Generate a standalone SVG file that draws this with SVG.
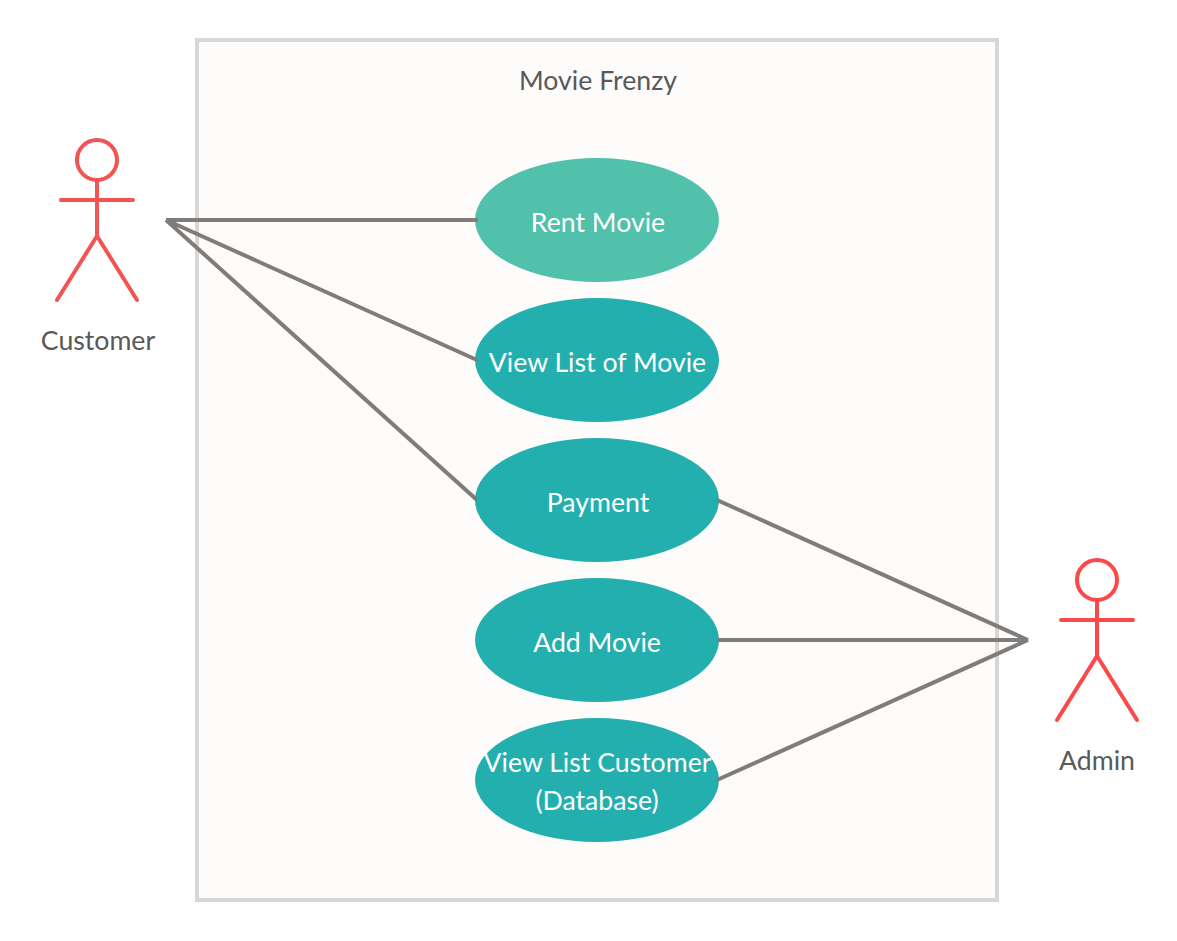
<svg xmlns="http://www.w3.org/2000/svg" width="1177" height="941" viewBox="0 0 1177 941">
<style>
text{font-family:Lato,"Noto Sans",sans-serif;text-anchor:middle}
.t{font-size:26.67px;fill:#fff}
.l{font-size:26.67px;fill:#595959}
.c{stroke:#7f7c7a;stroke-width:4;fill:none}
.a{stroke:#f25353;stroke-width:4;fill:none;stroke-linecap:round}
.b{stroke:#fb4848;stroke-width:4;fill:none;stroke-linecap:round}
.u{fill:#24afaf}
</style>
<rect width="1177" height="941" fill="#fff"/>
<g id="system"><rect x="197" y="40" width="800" height="860" fill="#fdfcfb" stroke="#d7d7d7" stroke-width="4"/><text class="l" x="598" y="90">Movie Frenzy</text></g>
<g id="rent"><ellipse cx="597" cy="220" rx="122" ry="62" fill="#52c1ab"/><text class="t" x="598" y="232">Rent Movie</text></g>
<g id="view"><ellipse class="u" cx="597" cy="360" rx="122" ry="62"/><text class="t" x="597.500" y="372">View List of Movie</text></g>
<g id="payment"><ellipse class="u" cx="597" cy="500" rx="122" ry="62"/><text class="t" x="598" y="512">Payment</text></g>
<g id="add"><ellipse class="u" cx="597" cy="640" rx="122" ry="62"/><text class="t" x="597" y="652">Add Movie</text></g>
<g id="viewcustomer"><ellipse class="u" cx="597" cy="780" rx="122" ry="62"/><text class="t" x="597.500" y="772">View List Customer</text><text class="t" x="597" y="810">(Database)</text></g>
<g id="customer"><circle class="a" cx="97" cy="160" r="20"/><path class="a" d="M97 180V236M61 200H133M97 236L57 300M97 236L137 300"/><text class="l" x="98" y="350">Customer</text></g>
<g id="admin"><circle class="b" cx="1097" cy="580" r="20"/><path class="b" d="M1097 600V656M1061 620H1133M1097 656L1057 720M1097 656L1137 720"/><text class="l" x="1097" y="770">Admin</text></g>
<g id="connectors">
<path class="c" d="M166 220H478M166 220L477 360M166 220L477 500M717 500L1028 640M717 640H1028M717 780L1028 640"/>
</g>
</svg>
